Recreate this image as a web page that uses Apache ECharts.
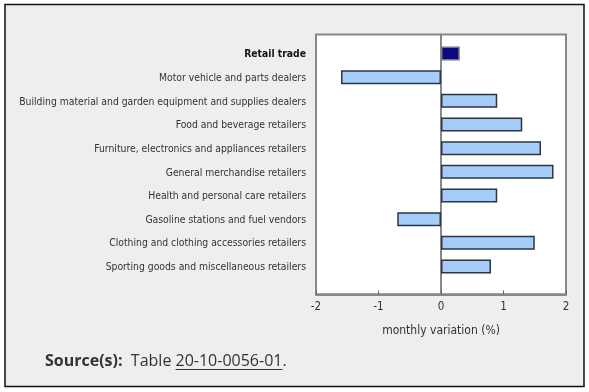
<!DOCTYPE html>
<html><head><meta charset="utf-8">
<script src="https://cdn.jsdelivr.net/npm/echarts@6/dist/echarts.min.js"></script>
<style>html,body{margin:0;padding:0;background:#fff}#c{width:589px;height:392px}</style>
</head><body><div id="c"></div>
<script>
const categories = [
  "Retail trade",
  "Motor vehicle and parts dealers",
  "Building material and garden equipment and supplies dealers",
  "Food and beverage retailers",
  "Furniture, electronics and appliances retailers",
  "General merchandise retailers",
  "Health and personal care retailers",
  "Gasoline stations and fuel vendors",
  "Clothing and clothing accessories retailers",
  "Sporting goods and miscellaneous retailers"
];
const values = [0.3, -1.6, 0.9, 1.3, 1.6, 1.8, 0.9, -0.7, 1.5, 0.8];
const xTicks = [-2, -1, 0, 1, 2];
const axisTitle = "monthly variation (%)";
const sourceLabel = "Source(s):";
const sourceText = "Table ";
const sourceLink = "20-10-0056-01";

const labelFont = "'DejaVu Sans Condensed', Tahoma, 'DejaVu Sans', sans-serif";
const chart = echarts.init(document.getElementById('c'), null, {renderer:'canvas'});

// measure for underline
const cv = document.createElement('canvas').getContext('2d');
cv.font = "bold 16px 'Open Sans'";
const wBold = cv.measureText(sourceLabel + "  ").width;
cv.font = "16px 'Open Sans'";
const wTable = cv.measureText(sourceText).width;
const wLink = cv.measureText(sourceLink).width;
const srcX = 45, srcY = 361;

chart.setOption({
  animation: false,
  backgroundColor: '#fff',
  graphic: [
    {type:'rect', z:-10, shape:{x:5, y:4.5, width:579, height:382}, style:{fill:'#eeeeee', stroke:'#111', lineWidth:1.5}},
    {type:'text', z:10, x:srcX, y:srcY, style:{text:'{b|' + sourceLabel + '}  ' + sourceText + sourceLink + '.', verticalAlign:'middle', font:"16px 'Open Sans'", fill:'#333',
      rich:{b:{fontWeight:'bold', fontSize:16, fontFamily:'Open Sans', fill:'#333'}}}},
    {type:'line', z:10, shape:{x1:srcX + wBold + wTable, y1:srcY + 8.5, x2:srcX + wBold + wTable + wLink, y2:srcY + 8.5}, style:{stroke:'#333', lineWidth:1}}
  ],
  grid: [
    {left:316, right:23, top:34.5, bottom:97.7, show:true, backgroundColor:'#fff', borderColor:'#888', borderWidth:2, outerBoundsMode:'none', containLabel:false},
    {left:316, right:23, top:41.7, bottom:113.7, outerBoundsMode:'none', containLabel:false}
  ],
  xAxis: [
    {gridIndex:0, type:'value', min:xTicks[0], max:xTicks[xTicks.length-1], interval:1,
      axisLine:{show:true, lineStyle:{color:'#888', width:2}},
      axisTick:{show:true, inside:true, length:4, lineStyle:{color:'#666', width:1}},
      axisLabel:{color:'#333', fontSize:11.5, fontFamily:labelFont, margin:7},
      splitLine:{show:false},
      name: axisTitle, nameLocation:'middle', nameGap:31,
      nameTextStyle:{color:'#333', fontSize:12, fontFamily:labelFont}},
    {gridIndex:1, type:'value', min:xTicks[0], max:xTicks[xTicks.length-1], interval:1, show:false}
  ],
  yAxis: [
    {gridIndex:0, type:'value', min:0, max:1, axisLine:{show:true, onZero:true, lineStyle:{color:'#888', width:2}},
      axisTick:{show:false}, axisLabel:{show:false}, splitLine:{show:false}},
    {gridIndex:1, type:'category', inverse:true, data:categories,
      axisLine:{show:false}, axisTick:{show:false},
      axisLabel:{margin:10, color:'#333', fontSize:10.3, fontFamily:labelFont, padding:[2,0,0,0],
        formatter:function(v, i){ return i === 0 ? '{b|' + v + '}' : v; },
        rich:{b:{fontWeight:'bold', fontSize:10.3, fontFamily:labelFont, color:'#111'}}}}
  ],
  series: [{
    type:'bar', xAxisIndex:1, yAxisIndex:1, barWidth:14, z:5,
    data: values.map(function(v, i){
      return i === 0
        ? {value:v, itemStyle:{color:'#0a0a80', borderColor:'#777', borderWidth:1.5}}
        : {value:v, itemStyle:{color:'#a5cdf8', borderColor:'#2a3644', borderWidth:1.5}};
    })
  }]
});
</script></body></html>
